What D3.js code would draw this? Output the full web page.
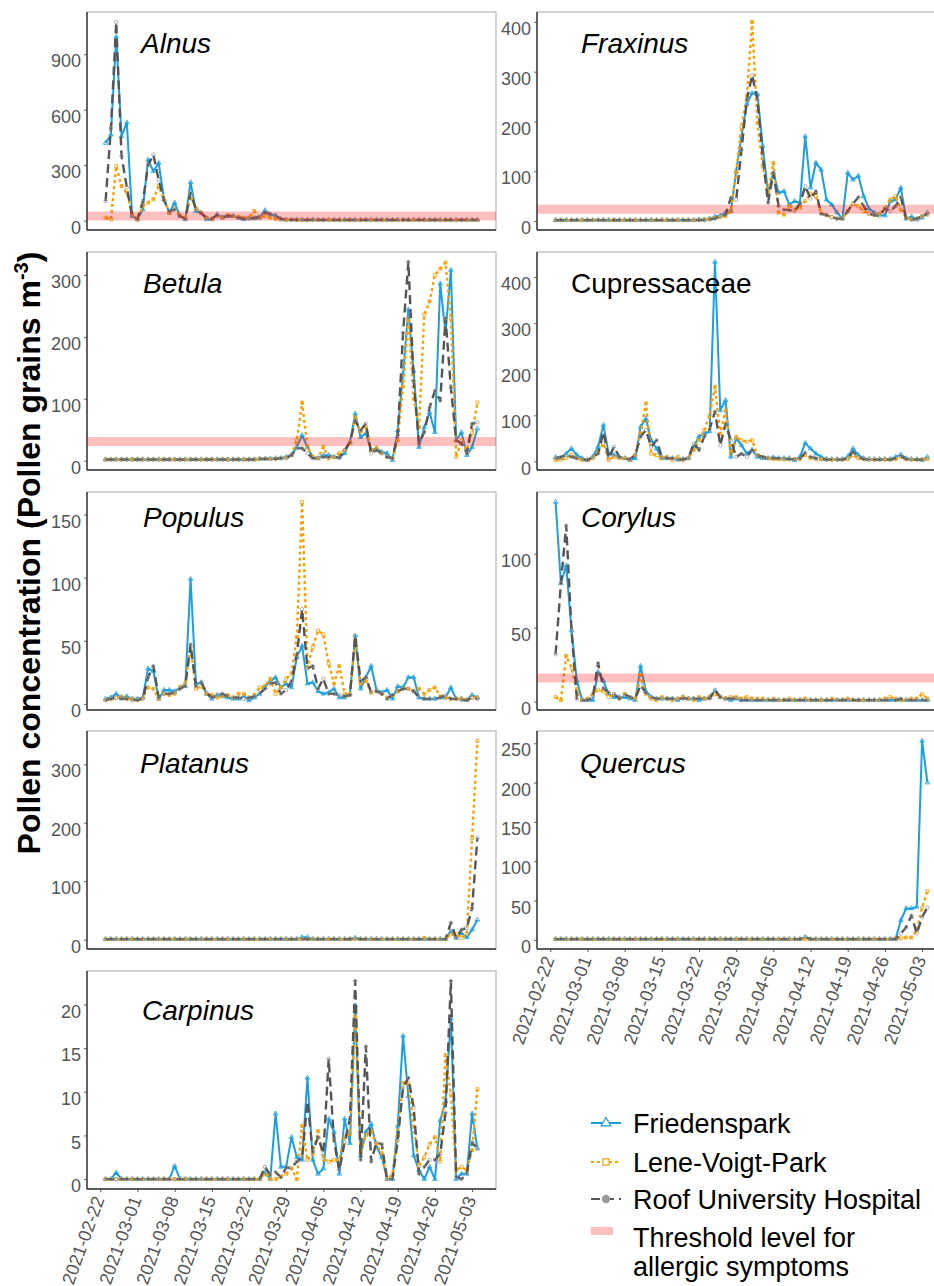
<!DOCTYPE html>
<html>
<head>
<meta charset="utf-8">
<script src="https://cdn.jsdelivr.net/npm/d3@7"></script>
<style>
  body { margin: 0; background: #fff; }
  text { font-family: "Liberation Sans", Arial, sans-serif; }
</style>
</head>
<body>
<script>
    var w = 934;
    var h = 1286;

    // Sampling period (daily) and weekly tick labels
    var firstDay = "2021-02-23";
    var lastDay = "2021-05-04";
    var tickLabels = ["2021-02-22", "2021-03-01", "2021-03-08", "2021-03-15", "2021-03-22",
                      "2021-03-29", "2021-04-05", "2021-04-12", "2021-04-19", "2021-04-26", "2021-05-03"];

    var sites = ["Friedenspark", "Lene-Voigt-Park", "Roof University Hospital"];
    var taxa = ["Alnus", "Fraxinus", "Betula", "Cupressaceae", "Populus", "Corylus", "Platanus", "Quercus", "Carpinus"];
    var italicNames = [true, true, true, false, true, true, true, true, true];
    var yTicks = [[0, 300, 600, 900], [0, 100, 200, 300, 400], [0, 100, 200, 300], [0, 100, 200, 300, 400],
                  [0, 50, 100, 150], [0, 50, 100], [0, 100, 200, 300], [0, 50, 100, 150, 200, 250], [0, 5, 10, 15, 20]];
    var thresholds = [25, 24, 31, null, null, 16, null, null, null];

    // Pollen grains m-3, one value per day (F = Friedenspark, L = Lene-Voigt-Park, R = Roof University Hospital)
    var alnusF = [420,465,995,456,531,25,7,60,330,267, 312,115,43,97,25,7,208,52,43,7,
                  7,34,16,25,25,16,7,12,12,16, 56,34,29,7,5,5,5,4,4,5,
                  4,4,4,4,4,4,4,4,4,4, 4,4,4,4,4,4,4,4,4,4, 4,4,4,4,4,4,4,4,4,4, 4];
    var alnusL = [16,7,294,187,150,34,5,79,97,115, 187,115,43,61,25,10,133,70,43,16,
                  7,25,16,30,25,20,16,16,52,16, 25,16,10,7,5,4,4,3,3,4,
                  3,3,4,3,3,3,3,3,3,3, 3,3,3,3,3,3,3,3,3,3, 3,3,3,3,3,3,3,3,3,3, 3];
    var alnusR = [106,500,1075,350,180,25,10,100,300,357, 220,110,50,60,25,10,150,60,40,15,
                  10,30,20,25,25,16,10,12,16,20, 45,34,25,10,5,5,4,4,4,4,
                  4,4,4,4,4,4,4,4,4,4, 4,4,4,4,4,4,4,4,4,4, 4,4,4,4,4,4,4,4,4,4, 4];

    var fraxinusF = [2,2,2,2,2,2,2,2,2,2, 2,2,2,2,2,2,2,2,2,2, 2,2,2,2,2,2,2,3,3,5,
                     9,11,17,20,100,170,235,257,255,150, 57,97,57,60,33,40,37,170,67,117,
                     103,43,33,17,5,97,83,91,50,25, 17,13,11,40,43,67,5,9,3,7, 17];
    var fraxinusL = [2,2,2,2,2,2,2,2,2,2, 2,2,2,2,2,2,2,2,2,2, 2,2,2,2,2,2,2,2,3,4,
                     6,8,10,20,97,190,250,400,197,110, 57,117,17,13,30,23,27,40,55,50,
                     15,12,8,5,5,20,35,30,20,15, 12,15,25,43,50,23,7,3,5,10, 13];
    var fraxinusR = [2,2,2,2,2,2,2,2,2,2, 2,2,2,2,2,2,2,2,2,2, 2,2,2,2,2,2,2,2,2,3,
                     5,10,13,47,43,143,243,293,243,130, 37,97,30,23,22,20,35,70,45,60,
                     15,12,8,5,5,20,35,48,30,15, 12,10,25,20,30,48,5,3,5,10, 15];

    var betulaF = [2,2,2,2,2,2,2,2,2,2, 2,2,2,2,2,2,2,2,2,2, 2,2,2,2,2,2,2,2,2,3,
                   3,3,4,4,6,9,22,41,22,6, 4,9,9,6,5,12,30,76,38,44,
                   17,20,14,12,1,49,140,244,145,22, 54,78,46,286,206,308,33,46,9,22, 52];
    var betulaL = [2,2,2,2,2,2,2,2,2,2, 2,2,2,2,2,2,2,2,2,2, 2,2,2,2,2,2,2,2,2,3,
                   3,3,3,4,5,9,33,94,22,6, 4,22,4,6,12,17,28,70,46,54,
                   17,20,12,6,4,33,120,230,100,54, 236,257,300,310,320,230,6,33,17,44, 94];
    var betulaR = [2,2,2,2,2,2,2,2,2,2, 2,2,2,2,2,2,2,2,2,2, 2,2,2,2,2,2,2,2,2,3,
                   3,3,3,4,4,9,20,20,12,4, 4,6,6,6,5,17,30,65,49,60,
                   12,17,12,6,4,41,206,321,129,28, 46,86,113,97,230,118,33,28,12,60, 62];

    var cupressaceaeF = [9,7,17,28,14,7,3,10,32,79, 17,14,9,7,3,7,75,93,46,28,
                         7,7,7,5,5,7,32,54,61,65, 433,111,133,10,50,35,17,25,10,7,
                         7,9,7,7,7,3,10,40,28,17, 10,5,5,5,5,10,28,14,7,5, 5,5,5,5,10,15,7,5,5,3, 10];
    var cupressaceaeL = [3,4,7,14,7,3,3,7,21,39, 3,10,7,7,4,14,61,126,17,14,
                         7,10,3,10,3,7,25,46,68,100, 162,60,111,17,54,46,43,46,14,10,
                         7,5,5,5,5,5,5,14,7,5, 5,4,4,4,4,5,14,7,5,4, 4,4,4,4,5,10,5,4,4,4, 5];
    var cupressaceaeR = [7,10,14,10,7,5,3,10,17,64, 7,32,10,7,5,14,54,68,32,46,
                         10,7,7,3,5,7,39,25,54,70, 108,35,82,46,10,17,10,25,14,10,
                         7,7,7,5,5,5,7,19,10,7, 5,4,4,4,4,7,21,10,5,4, 4,4,4,4,7,12,5,4,4,4, 7];

    var populusF = [4,5,8,5,6,4,4,5,28,26, 4,11,11,10,13,14,99,16,17,8,
                    4,7,6,5,4,4,6,3,5,8, 13,18,21,13,16,13,37,46,16,17,
                    10,8,9,12,5,5,8,54,12,21, 30,11,9,11,4,14,13,21,21,5, 4,4,4,5,5,13,4,4,3,7, 5];
    var populusL = [3,4,5,6,4,4,3,5,13,12, 4,8,7,8,13,16,45,12,14,8,
                    7,5,6,7,5,8,8,5,7,13, 14,20,8,13,20,24,53,160,29,45,
                    58,55,32,16,30,8,7,50,16,18, 9,10,8,5,7,10,12,12,10,12, 8,11,13,6,5,4,4,4,3,5, 5];
    var populusR = [3,4,5,4,4,3,3,4,21,30, 5,8,8,9,12,14,47,14,17,9,
                    5,7,8,6,5,5,4,5,6,8, 12,16,17,8,11,18,39,75,28,30,
                    12,20,8,8,7,6,7,54,18,21, 9,10,8,4,7,10,12,12,10,5, 4,4,4,5,7,4,4,3,3,5, 4];

    var corylusF = [135,80,92,48,14,1,1,1,20,14, 5,3,3,3,2,1,24,7,3,2,
                    2,2,2,1,3,2,2,1,2,3, 7,3,2,1,2,1,1,1,1,1,
                    1,1,1,1,1,1,1,1,1,1, 1,1,1,1,1,1,1,1,1,1, 1,1,1,1,1,1,1,1,1,1, 1];
    var corylusL = [3,1,31,23,7,1,2,5,8,7, 3,5,2,5,3,2,18,5,2,1,
                    3,2,1,2,3,2,1,3,2,3, 5,3,2,3,3,2,3,2,2,2,
                    1,2,1,1,2,1,1,2,1,1, 1,1,2,1,1,2,1,1,1,1, 1,1,2,3,2,1,1,2,2,5, 2];
    var corylusR = [32,80,119,48,2,1,1,3,26,9, 6,5,2,5,3,2,11,6,3,2,
                    2,2,2,2,2,2,2,2,2,2, 8,3,2,2,2,1,1,1,1,1,
                    1,1,1,1,1,1,1,1,1,1, 1,1,1,1,1,1,1,1,1,1, 1,1,1,1,1,2,1,1,1,1, 1];

    var platanusF = [1,1,1,1,1,1,1,1,1,1, 1,1,1,1,1,1,1,1,1,1, 1,1,1,1,1,1,1,1,1,1,
                     1,1,1,1,1,1,1,4,4,1, 1,1,1,1,1,1,1,3,1,1,
                     1,1,1,1,1,1,1,1,1,1, 1,1,1,1,1,14,3,11,4,17, 34];
    var platanusL = [1,1,1,1,1,1,1,1,1,1, 1,1,1,1,1,1,1,1,1,1, 1,1,1,1,1,1,1,1,1,1,
                     1,1,1,1,1,1,1,1,1,1, 1,1,1,1,1,1,1,1,1,1,
                     1,1,1,1,1,1,1,1,1,1, 3,1,1,1,1,9,9,3,10,174, 340];
    var platanusR = [1,1,1,1,1,1,1,1,1,1, 1,1,1,1,1,1,1,1,1,1, 1,1,1,1,1,1,1,1,1,1,
                     1,1,1,1,1,1,1,1,1,1, 1,1,1,1,1,1,1,2,1,1,
                     1,1,1,1,1,1,1,1,1,1, 1,1,1,1,1,29,3,17,20,54, 174];

    var quercusF = [1,1,1,1,1,1,1,1,1,1, 1,1,1,1,1,1,1,1,1,1, 1,1,1,1,1,1,1,1,1,1,
                    1,1,1,1,1,1,1,1,1,1, 1,1,1,1,1,1,1,3,1,1,
                    1,1,1,1,1,1,1,1,1,1, 1,1,1,1,1,25,40,40,42,253, 200];
    var quercusL = [1,1,1,1,1,1,1,1,1,1, 1,1,1,1,1,1,1,1,1,1, 1,1,1,1,1,1,1,1,1,1,
                    1,1,1,1,1,1,1,1,1,1, 1,1,1,1,1,1,1,1,1,1,
                    1,1,1,1,1,1,1,1,1,1, 1,1,1,1,2,2,3,3,12,41, 62];
    var quercusR = [1,1,1,1,1,1,1,1,1,1, 1,1,1,1,1,1,1,1,1,1, 1,1,1,1,1,1,1,1,1,1,
                    1,1,1,1,1,1,1,1,1,1, 1,1,1,1,1,1,1,4,1,1,
                    1,1,1,1,1,1,1,1,1,1, 1,1,1,1,1,8,16,31,8,29, 41];

    var carpinusF = [0,0,0.75,0,0,0,0,0,0,0, 0,0,0,1.5,0,0,0,0,0,0, 0,0,0,0,0,0,0,0,0,0,
                     0.8,0,7.5,1.4,1.4,4.8,2.5,2.2,11.6,2.2, 0.6,1.2,6.9,5.4,0.6,6.9,4.1,19.9,2.7,5.4,
                     6.3,3.7,2.5,0,0,6.1,16.4,9.5,2.7,1, 0,1.4,0,6.7,8.9,18.4,0,0.6,0.6,7.5, 3.5];
    var carpinusL = [0,0,0,0,0,0,0,0,0,0, 0,0,0,0,0,0,0,0,0,0, 0,0,0,0,0,0,0,0,0,0,
                     0.6,0,0,0.3,0.6,1.2,0,6.1,2.2,2.9, 5.5,2.3,2,2.2,2.2,4.8,5.2,18.6,3,5,
                     5.5,4,3,0,0.5,5,11,11,6,1.5, 2.5,4,4.8,2,14.2,9.7,1,1.4,1,3.3, 10.3];
    var carpinusR = [0,0,0,0,0,0,0,0,0,0, 0,0,0,0,0,0,0,0,0,0, 0,0,0,0,0,0,0,0,0,0,
                     1.4,0.5,0.8,0.2,1.3,1.3,2,2.5,8.9,3.1, 4.8,2.9,13.8,4.4,1,4.2,6.9,22.7,2.2,15.2,
                     2,4.2,4,0,0,4.4,10.5,11.6,8.2,0.6, 1.4,2.2,2.2,2.9,7.6,22.7,0.3,0,0.6,4.2, 3.5];

    var series = [[alnusF, alnusL, alnusR], [fraxinusF, fraxinusL, fraxinusR],
                  [betulaF, betulaL, betulaR], [cupressaceaeF, cupressaceaeL, cupressaceaeR],
                  [populusF, populusL, populusR], [corylusF, corylusL, corylusR],
                  [platanusF, platanusL, platanusR], [quercusF, quercusL, quercusR],
                  [carpinusF, carpinusL, carpinusR]];

    // Layout in pixels
    var colX = [87, 537];
    var rowY = [12, 252, 492, 731, 971];
    var pw = 409, ph = 218;
    var titlePos = [[54, 41], [44, 41], [56, 41], [34, 41], [56, 35], [44, 35], [53, 42], [43, 42], [55, 49]];
    var withXAxis = [false, false, false, false, false, false, false, true, true];

    // Site styles
    var siteColor = ["#1a9fe0", "#f7a000", "#555555"];
    var markColor = ["#1a9fe0", "#f7a000", "#9a9a9a"];
    var siteDash = [null, "3,3", "9,5"];
    var siteWidth = [2, 2.4, 2.4];
    var siteSymbol = [d3.symbolTriangle, d3.symbolSquare, d3.symbolCircle];

    var svg = d3.select("body")
                .append("svg")
                .attr("width", w)
                .attr("height", h);

    svg.append("rect").attr("width", w).attr("height", h).attr("fill", "#fff");

    var parseDay = d3.utcParse("%Y-%m-%d");
    var days = d3.utcDay.range(parseDay(firstDay), d3.utcDay.offset(parseDay(lastDay), 1));
    var tickDates = tickLabels.map(parseDay);

    // 5% padding on each side, like ggplot
    var padMs = (days[days.length - 1] - days[0]) * 0.05;
    var x = d3.scaleUtc()
              .domain([new Date(+days[0] - padMs), new Date(+days[days.length - 1] + padMs)])
              .range([0, pw]);

    taxa.forEach(function(name, i) {
        var col = i % 2, row = Math.floor(i / 2);
        var g = svg.append("g")
                   .attr("transform", "translate(" + colX[col] + "," + rowY[row] + ")");

        var all = d3.merge(series[i]);
        var lo = d3.min(all), hi = d3.max(all), span = hi - lo;
        var y = d3.scaleLinear()
                  .domain([lo - span * 0.05, hi + span * 0.05])
                  .range([ph, 0]);

        // panel frame (light) and axis lines (dark)
        g.append("rect")
         .attr("width", pw).attr("height", ph)
         .attr("fill", "none")
         .attr("stroke", "#a8a8a8")
         .attr("stroke-width", 1);

        var ya = g.append("g")
                  .call(d3.axisLeft(y).tickValues(yTicks[i]).tickSize(3).tickPadding(3));
        ya.attr("font-size", 18).attr("font-family", null).attr("color", "#666");
        ya.select(".domain").remove();
        ya.selectAll("text").attr("fill", "#555").attr("dy", "0.7em");

        g.append("line").attr("x1", 0).attr("x2", 0).attr("y1", 0).attr("y2", ph)
         .attr("stroke", "#333").attr("stroke-width", 1.4);
        g.append("line").attr("x1", 0).attr("x2", pw).attr("y1", ph).attr("y2", ph)
         .attr("stroke", "#333").attr("stroke-width", 1.4);

        if (withXAxis[i]) {
            var xa = g.append("g")
                      .attr("transform", "translate(0," + ph + ")")
                      .call(d3.axisBottom(x)
                              .tickValues(tickDates)
                              .tickFormat(function(d, k) { return tickLabels[k]; })
                              .tickSize(3));
            xa.attr("font-size", 18).attr("font-family", null).attr("color", "#555");
            xa.select(".domain").remove();
            xa.selectAll("text")
              .attr("x", 0).attr("y", 0).attr("dy", "0.35em")
              .attr("text-anchor", "end")
              .attr("fill", "#555")
              .attr("transform", "translate(-2,8) rotate(-70)");
        }

        var line = d3.line()
                     .x(function(d, k) { return x(days[k]); })
                     .y(function(d) { return y(d); });

        series[i].forEach(function(vals, s) {
            g.append("path")
             .datum(vals)
             .attr("d", line)
             .attr("fill", "none")
             .attr("stroke", siteColor[s])
             .attr("stroke-width", siteWidth[s])
             .attr("stroke-dasharray", siteDash[s])
             .attr("stroke-linejoin", "round");

            g.selectAll(null)
             .data(vals)
             .enter()
             .append("path")
             .attr("transform", function(d, k) { return "translate(" + x(days[k]) + "," + y(d) + ")"; })
             .attr("d", d3.symbol().type(siteSymbol[s]).size(9))
             .attr("fill", "none")
             .attr("stroke", markColor[s])
             .attr("stroke-width", 0.8);
        });

        // threshold band drawn on top, semi-transparent
        if (thresholds[i] != null) {
            g.append("line")
             .attr("x1", 0).attr("x2", pw)
             .attr("y1", y(thresholds[i])).attr("y2", y(thresholds[i]))
             .attr("stroke", "red")
             .attr("stroke-opacity", 0.25)
             .attr("stroke-width", 9);
        }

        g.append("text")
         .attr("x", titlePos[i][0])
         .attr("y", titlePos[i][1])
         .attr("font-size", 28)
         .attr("font-style", italicNames[i] ? "italic" : "normal")
         .attr("fill", "#000")
         .text(name);
    });

    // Shared y axis title
    var yTitle = svg.append("text")
                    .attr("transform", "translate(40,553) rotate(-90)")
                    .attr("text-anchor", "middle")
                    .attr("font-size", 32)
                    .attr("font-weight", "bold")
                    .attr("fill", "#000");
    yTitle.append("tspan").text("Pollen concentration (Pollen grains m");
    yTitle.append("tspan").attr("font-size", 20).attr("dy", -12).text("-3");
    yTitle.append("tspan").attr("dy", 12).text(")");

    // Legend
    var legend = svg.append("g").attr("transform", "translate(591,0)");
    var legendY = [1123, 1162, 1199];
    sites.forEach(function(site, s) {
        legend.append("line")
              .attr("x1", 0).attr("x2", 30)
              .attr("y1", legendY[s]).attr("y2", legendY[s])
              .attr("stroke", siteColor[s])
              .attr("stroke-width", 2)
              .attr("stroke-dasharray", siteDash[s]);
        legend.append("path")
              .attr("transform", "translate(15," + legendY[s] + ")")
              .attr("d", d3.symbol().type(siteSymbol[s]).size(40))
              .attr("fill", s == 2 ? "#999" : "#fff")
              .attr("stroke", markColor[s])
              .attr("stroke-width", 1.2);
        legend.append("text")
              .attr("x", 42)
              .attr("y", legendY[s] + 10)
              .attr("font-size", 27)
              .attr("fill", "#000")
              .text(site);
    });
    legend.append("rect")
          .attr("x", 0).attr("y", 1227)
          .attr("width", 22).attr("height", 8)
          .attr("fill", "red")
          .attr("fill-opacity", 0.25);
    legend.append("text").attr("x", 42).attr("y", 1247).attr("font-size", 27).attr("fill", "#000")
          .text("Threshold level for");
    legend.append("text").attr("x", 42).attr("y", 1276).attr("font-size", 27).attr("fill", "#000")
          .text("allergic symptoms");
</script>
</body>
</html>
